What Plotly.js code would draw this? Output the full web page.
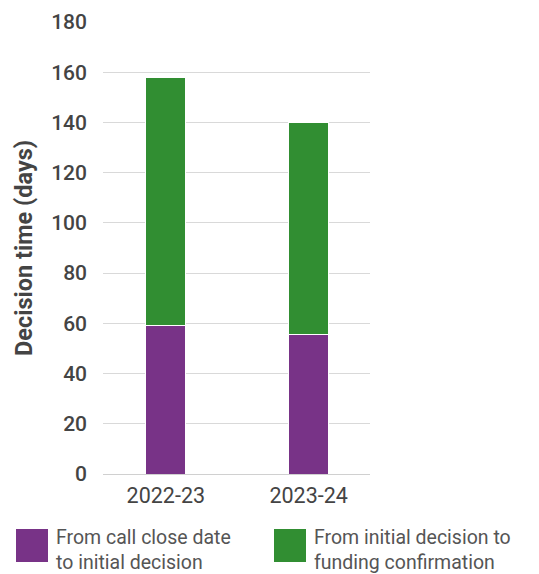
<!DOCTYPE html>
<html><head><meta charset="utf-8">
<script src="https://cdn.plot.ly/plotly-3.0.1.min.js"></script>
<style>html,body{margin:0;padding:0;background:#fff}</style>
</head><body>
<div id="chart" style="width:539px;height:574px"></div>
<script>
const categories = ["2022-23", "2023-24"];
const seriesNames = ["From call close date<br>to initial decision", "From initial decision to<br>funding confirmation"];
const closeToInitial = [59, 55.5];
const initialToFunding = [99, 84.5];
const yTicks = [0, 20, 40, 60, 80, 100, 120, 140, 160, 180];
const colors = ["#783387", "#318e32"];

const traces = [closeToInitial, initialToFunding].map((vals, i) => ({
  type: "bar", x: categories, y: vals, name: seriesNames[i],
  marker: {color: colors[i], line: {color: "#ffffff", width: 1}},
  width: 0.28, showlegend: false, hoverinfo: "skip"
}));

const shapes = [], annotations = [];
const legendX = [16, 274];
seriesNames.forEach((n, i) => {
  shapes.push({type: "rect", xref: "paper", yref: "paper",
    x0: (legendX[i] - 103) / 267, x1: (legendX[i] + 32 - 103) / 267,
    y0: -(562 - 474) / 452, y1: -(529 - 474) / 452,
    fillcolor: colors[i], line: {width: 0}});
  annotations.push({xref: "paper", yref: "paper", x: (legendX[i] + 38 - 103) / 267,
    y: -(550 - 474) / 452, xanchor: "left", yanchor: "middle", align: "left",
    showarrow: false, text: n, font: {family: "Roboto", size: 19.5, color: "#555555"}});
});

const layout = {
  width: 539, height: 574,
  margin: {l: 103, r: 169, t: 22, b: 100},
  barmode: "stack",
  paper_bgcolor: "#fff", plot_bgcolor: "#fff",
  font: {family: "Roboto", color: "#444"},
  xaxis: {range: [-0.44, 1.43], tickfont: {size: 21.5, color: "#444"}, showgrid: false,
    showline: true, linecolor: "#d0d0d0", ticks: "", ticklabelstandoff: 2, fixedrange: true},
  yaxis: {range: [0, 180], tickvals: yTicks, ticktext: yTicks.map(String),
    tickfont: {size: 21, color: "#444", weight: 500}, gridcolor: "#d9d9d9", gridwidth: 1,
    zeroline: false, ticks: "", ticklabelstandoff: 15,
    title: {text: "Decision time (days)", font: {size: 23.5, weight: "bold", color: "#444"}, standoff: 11}},
  shapes, annotations
};
Plotly.newPlot("chart", traces, layout, {displayModeBar: false, staticPlot: true});
</script>
</body></html>
